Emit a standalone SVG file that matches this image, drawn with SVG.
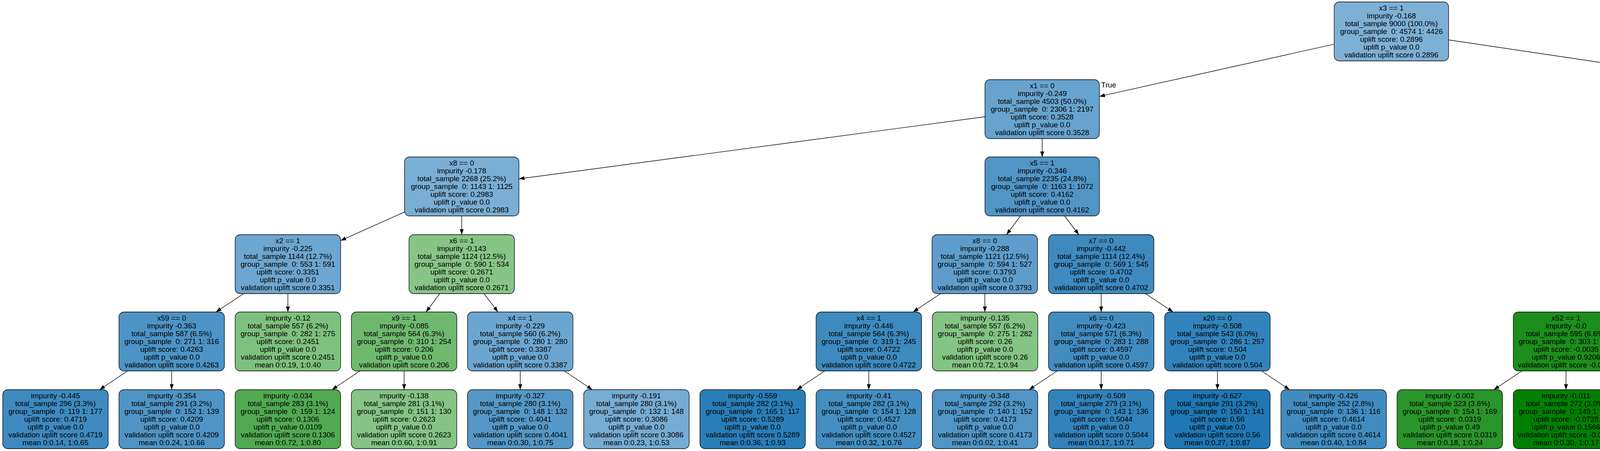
<svg xmlns="http://www.w3.org/2000/svg" width="7127" height="1155" viewBox="0 0 7127 1155">
<style>
text{font-family:"Liberation Sans",Arial,Helvetica,sans-serif;font-size:19px;fill:#000;text-anchor:middle}
text.lbl{text-anchor:start}
text.lbr{text-anchor:end}
rect.b{stroke:#000;stroke-width:1.3}
#edges path{fill:none;stroke:#000;stroke-width:1.4;marker-end:url(#ah)}
</style>
<defs>
<marker id="ah" markerUnits="userSpaceOnUse" markerWidth="14" markerHeight="10" viewBox="0 0 14 10" refX="14" refY="5" orient="auto"><path d="M0,0 L14,5 L0,10 z" fill="#000"/></marker>
</defs>
<rect x="0" y="0" width="7127" height="1155" fill="#fff"/>
<g id="edges">
<path d="M3415.5 113.1 L2814.5 246.9"/>
<path d="M3708.5 102.2 L4756.5 257.8"/>
<path d="M2521.5 299 L1328.5 458"/>
<path d="M2668 355 L2668 402"/>
<path d="M4903 355 L4903 402"/>
<path d="M5049.5 303.9 L5945.5 453.1"/>
<path d="M1035.5 543 L872 616.1"/>
<path d="M1182 553 L1182 601"/>
<path d="M2612.3 553 L2576.7 601"/>
<path d="M2725.3 553 L2761.7 601"/>
<path d="M4756.5 542.9 L4592 616.3"/>
<path d="M4959.9 553 L4996.1 601"/>
<path d="M6092 553 L6092 601"/>
<path d="M6238.5 526.6 L6551 631.3"/>
<path d="M623.6 752 L552.9 799"/>
<path d="M737 752 L737 799"/>
<path d="M1125.8 752 L1090.7 799"/>
<path d="M1239.1 752 L1274.7 799"/>
<path d="M2407.8 752 L2337.4 799"/>
<path d="M2521.3 752 L2521.3 799"/>
<path d="M2819 752 L2819 799"/>
<path d="M2932.5 752 L3003.1 799"/>
<path d="M4322 736.2 L4144 814.8"/>
<path d="M4457 752 L4457 799"/>
<path d="M5053 752 L5053 799"/>
<path d="M5188 736.8 L5361.3 814.2"/>
<path d="M6035 752 L5999.5 799"/>
<path d="M6148.4 752 L6183.6 799"/>
<path d="M6686 752 L6686 799"/>
<path d="M6799.5 752 L6870.1 799"/>
<path d="M326.6 950 L254.9 998"/>
<path d="M439.5 950 L439.5 998"/>
<path d="M921.6 950 L849.9 998"/>
<path d="M1034.5 950 L1034.5 998"/>
<path d="M1331.8 950 L1331.8 998"/>
<path d="M1444.7 950 L1516.4 998"/>
<path d="M2111.4 950 L2039.6 998"/>
<path d="M2224.2 950 L2224.2 998"/>
<path d="M2706.3 950 L2634.5 998"/>
<path d="M2819.1 950 L2819.1 998"/>
<path d="M3116.6 950 L3116.6 998"/>
<path d="M3229.4 950 L3301.3 998"/>
<path d="M3896.2 950 L3824.3 998"/>
<path d="M4009 950 L4009 998"/>
<path d="M4399.9 950 L4363.5 998"/>
<path d="M4512.7 950 L4548.2 998"/>
<path d="M4995.5 950 L4958.9 998"/>
<path d="M5108.3 950 L5143.5 998"/>
<path d="M5496.3 950 L5496.3 998"/>
<path d="M5609.1 950 L5680.9 998"/>
<path d="M6183.5 950 L6147.7 998"/>
<path d="M6296.4 950 L6332.3 998"/>
<path d="M6686.1 950 L6686.1 998"/>
<path d="M6799 950 L6870.7 998"/>
<text class="lbl" x="2819" y="224">True</text>
<text class="lbr" x="4754" y="235">False</text>
</g>

<g id="n0"><rect class="b" x="3415.5" y="5" width="293" height="151" rx="13" fill="#7DB0D6"/><text x="3562" y="27">x3 == 1<tspan x="3562" dy="20">impurity -0.168</tspan><tspan x="3562" dy="20">total_sample 9000 (100.0%)</tspan><tspan x="3562" dy="20">group_sample&#160; 0: 4574 1: 4426</tspan><tspan x="3562" dy="20">uplift score: 0.2896</tspan><tspan x="3562" dy="20">uplift p_value 0.0</tspan><tspan x="3562" dy="20">validation uplift score 0.2896</tspan></text></g>

<g id="n1"><rect class="b" x="2521.5" y="204" width="293" height="151" rx="13" fill="#67A3CE"/><text x="2668" y="226">x1 == 0<tspan x="2668" dy="20">impurity -0.249</tspan><tspan x="2668" dy="20">total_sample 4503 (50.0%)</tspan><tspan x="2668" dy="20">group_sample&#160; 0: 2306 1: 2197</tspan><tspan x="2668" dy="20">uplift score: 0.3528</tspan><tspan x="2668" dy="20">uplift p_value 0.0</tspan><tspan x="2668" dy="20">validation uplift score 0.3528</tspan></text></g>
<g id="n2"><rect class="b" x="4756.5" y="204" width="293" height="151" rx="13" fill="#77BD77"/><text x="4903" y="226">x4 == 0<tspan x="4903" dy="20">impurity -0.104</tspan><tspan x="4903" dy="20">total_sample 4497 (50.0%)</tspan><tspan x="4903" dy="20">group_sample&#160; 0: 2268 1: 2229</tspan><tspan x="4903" dy="20">uplift score: 0.2282</tspan><tspan x="4903" dy="20">uplift p_value 0.0</tspan><tspan x="4903" dy="20">validation uplift score 0.2282</tspan></text></g>

<g id="n3"><rect class="b" x="1035.5" y="402" width="293" height="151" rx="13" fill="#7AAED5"/><text x="1182" y="424">x8 == 0<tspan x="1182" dy="20">impurity -0.178</tspan><tspan x="1182" dy="20">total_sample 2268 (25.2%)</tspan><tspan x="1182" dy="20">group_sample&#160; 0: 1143 1: 1125</tspan><tspan x="1182" dy="20">uplift score: 0.2983</tspan><tspan x="1182" dy="20">uplift p_value 0.0</tspan><tspan x="1182" dy="20">validation uplift score 0.2983</tspan></text></g>
<g id="n4"><rect class="b" x="2521.5" y="402" width="293" height="151" rx="13" fill="#5195C6"/><text x="2668" y="424">x5 == 1<tspan x="2668" dy="20">impurity -0.346</tspan><tspan x="2668" dy="20">total_sample 2235 (24.8%)</tspan><tspan x="2668" dy="20">group_sample&#160; 0: 1163 1: 1072</tspan><tspan x="2668" dy="20">uplift score: 0.4162</tspan><tspan x="2668" dy="20">uplift p_value 0.0</tspan><tspan x="2668" dy="20">validation uplift score 0.4162</tspan></text></g>
<g id="n5"><rect class="b" x="4756.5" y="402" width="293" height="151" rx="13" fill="#54AB54"/><text x="4903" y="424">x1 == 0<tspan x="4903" dy="20">impurity -0.038</tspan><tspan x="4903" dy="20">total_sample 2250 (25.0%)</tspan><tspan x="4903" dy="20">group_sample&#160; 0: 1173 1: 1077</tspan><tspan x="4903" dy="20">uplift score: 0.1385</tspan><tspan x="4903" dy="20">uplift p_value 0.0</tspan><tspan x="4903" dy="20">validation uplift score 0.1385</tspan></text></g>
<g id="n6"><rect class="b" x="5945.5" y="402" width="293" height="151" rx="13" fill="#77ADD4"/><text x="6092" y="424">x6 == 1<tspan x="6092" dy="20">impurity -0.186</tspan><tspan x="6092" dy="20">total_sample 2247 (25.0%)</tspan><tspan x="6092" dy="20">group_sample&#160; 0: 1095 1: 1152</tspan><tspan x="6092" dy="20">uplift score: 0.305</tspan><tspan x="6092" dy="20">uplift p_value 0.0</tspan><tspan x="6092" dy="20">validation uplift score 0.305</tspan></text></g>

<g id="n7"><rect class="b" x="602" y="601" width="270" height="151" rx="13" fill="#6DA6D0"/><text x="737" y="623">x2 == 1<tspan x="737" dy="20">impurity -0.225</tspan><tspan x="737" dy="20">total_sample 1144 (12.7%)</tspan><tspan x="737" dy="20">group_sample&#160; 0: 553 1: 591</tspan><tspan x="737" dy="20">uplift score: 0.3351</tspan><tspan x="737" dy="20">uplift p_value 0.0</tspan><tspan x="737" dy="20">validation uplift score 0.3351</tspan></text></g>
<g id="n8"><rect class="b" x="1047" y="601" width="270" height="151" rx="13" fill="#87C587"/><text x="1182" y="623">x6 == 1<tspan x="1182" dy="20">impurity -0.143</tspan><tspan x="1182" dy="20">total_sample 1124 (12.5%)</tspan><tspan x="1182" dy="20">group_sample&#160; 0: 590 1: 534</tspan><tspan x="1182" dy="20">uplift score: 0.2671</tspan><tspan x="1182" dy="20">uplift p_value 0.0</tspan><tspan x="1182" dy="20">validation uplift score 0.2671</tspan></text></g>
<g id="n9"><rect class="b" x="2386" y="601" width="270" height="151" rx="13" fill="#5E9DCB"/><text x="2521" y="623">x8 == 0<tspan x="2521" dy="20">impurity -0.288</tspan><tspan x="2521" dy="20">total_sample 1121 (12.5%)</tspan><tspan x="2521" dy="20">group_sample&#160; 0: 594 1: 527</tspan><tspan x="2521" dy="20">uplift score: 0.3793</tspan><tspan x="2521" dy="20">uplift p_value 0.0</tspan><tspan x="2521" dy="20">validation uplift score 0.3793</tspan></text></g>
<g id="n10"><rect class="b" x="2684" y="601" width="270" height="151" rx="13" fill="#3E8ABF"/><text x="2819" y="623">x7 == 0<tspan x="2819" dy="20">impurity -0.442</tspan><tspan x="2819" dy="20">total_sample 1114 (12.4%)</tspan><tspan x="2819" dy="20">group_sample&#160; 0: 569 1: 545</tspan><tspan x="2819" dy="20">uplift score: 0.4702</tspan><tspan x="2819" dy="20">uplift p_value 0.0</tspan><tspan x="2819" dy="20">validation uplift score 0.4702</tspan></text></g>
<g id="n11"><rect class="b" x="4322" y="601" width="270" height="151" rx="13" fill="#399D39"/><text x="4457" y="623">x2 == 0<tspan x="4457" dy="20">impurity -0.01</tspan><tspan x="4457" dy="20">total_sample 1141 (12.7%)</tspan><tspan x="4457" dy="20">group_sample&#160; 0: 579 1: 562</tspan><tspan x="4457" dy="20">uplift score: 0.0697</tspan><tspan x="4457" dy="20">uplift p_value 0.0092</tspan><tspan x="4457" dy="20">validation uplift score 0.0697</tspan></text></g>
<g id="n12"><rect class="b" x="4918" y="601" width="270" height="151" rx="13" fill="#6CB86C"/><text x="5053" y="623">x6 == 0<tspan x="5053" dy="20">impurity -0.08</tspan><tspan x="5053" dy="20">total_sample 1109 (12.3%)</tspan><tspan x="5053" dy="20">group_sample&#160; 0: 594 1: 515</tspan><tspan x="5053" dy="20">uplift score: 0.1994</tspan><tspan x="5053" dy="20">uplift p_value 0.0</tspan><tspan x="5053" dy="20">validation uplift score 0.1994</tspan></text></g>
<g id="n13"><rect class="b" x="5957" y="601" width="270" height="151" rx="13" fill="#7AAFD5"/><text x="6092" y="623">x5 == 1<tspan x="6092" dy="20">impurity -0.175</tspan><tspan x="6092" dy="20">total_sample 1143 (12.7%)</tspan><tspan x="6092" dy="20">group_sample&#160; 0: 577 1: 566</tspan><tspan x="6092" dy="20">uplift score: 0.2962</tspan><tspan x="6092" dy="20">uplift p_value 0.0</tspan><tspan x="6092" dy="20">validation uplift score 0.2962</tspan></text></g>
<g id="n14"><rect class="b" x="6551" y="601" width="270" height="151" rx="13" fill="#6CA6D0"/><text x="6686" y="623">x5 == 1<tspan x="6686" dy="20">impurity -0.23</tspan><tspan x="6686" dy="20">total_sample 1104 (12.3%)</tspan><tspan x="6686" dy="20">group_sample&#160; 0: 518 1: 586</tspan><tspan x="6686" dy="20">uplift score: 0.3392</tspan><tspan x="6686" dy="20">uplift p_value 0.0</tspan><tspan x="6686" dy="20">validation uplift score 0.3392</tspan></text></g>

<g id="n15"><rect class="b" x="304.5" y="799" width="270" height="151" rx="13" fill="#4D93C5"/><text x="439.5" y="821">x59 == 0<tspan x="439.5" dy="20">impurity -0.363</tspan><tspan x="439.5" dy="20">total_sample 587 (6.5%)</tspan><tspan x="439.5" dy="20">group_sample&#160; 0: 271 1: 316</tspan><tspan x="439.5" dy="20">uplift score: 0.4263</tspan><tspan x="439.5" dy="20">uplift p_value 0.0</tspan><tspan x="439.5" dy="20">validation uplift score 0.4263</tspan></text></g>
<g id="n16"><rect class="b" x="602" y="799" width="270" height="151" rx="13" fill="#7EC17E"/><text x="737" y="821">impurity -0.12<tspan x="737" dy="20">total_sample 557 (6.2%)</tspan><tspan x="737" dy="20">group_sample&#160; 0: 282 1: 275</tspan><tspan x="737" dy="20">uplift score: 0.2451</tspan><tspan x="737" dy="20">uplift p_value 0.0</tspan><tspan x="737" dy="20">validation uplift score 0.2451</tspan><tspan x="737" dy="20">mean 0:0.19, 1:0.40</tspan></text></g>
<g id="n17"><rect class="b" x="899.5" y="799" width="270" height="151" rx="13" fill="#6FB96F"/><text x="1034.5" y="821">x9 == 1<tspan x="1034.5" dy="20">impurity -0.085</tspan><tspan x="1034.5" dy="20">total_sample 564 (6.3%)</tspan><tspan x="1034.5" dy="20">group_sample&#160; 0: 310 1: 254</tspan><tspan x="1034.5" dy="20">uplift score: 0.206</tspan><tspan x="1034.5" dy="20">uplift p_value 0.0</tspan><tspan x="1034.5" dy="20">validation uplift score 0.206</tspan></text></g>
<g id="n18"><rect class="b" x="1196.8" y="799" width="270" height="151" rx="13" fill="#6CA6D0"/><text x="1331.8" y="821">x4 == 1<tspan x="1331.8" dy="20">impurity -0.229</tspan><tspan x="1331.8" dy="20">total_sample 560 (6.2%)</tspan><tspan x="1331.8" dy="20">group_sample&#160; 0: 280 1: 280</tspan><tspan x="1331.8" dy="20">uplift score: 0.3387</tspan><tspan x="1331.8" dy="20">uplift p_value 0.0</tspan><tspan x="1331.8" dy="20">validation uplift score 0.3387</tspan></text></g>
<g id="n19"><rect class="b" x="2089.2" y="799" width="270" height="151" rx="13" fill="#3D8ABE"/><text x="2224.2" y="821">x4 == 1<tspan x="2224.2" dy="20">impurity -0.446</tspan><tspan x="2224.2" dy="20">total_sample 564 (6.3%)</tspan><tspan x="2224.2" dy="20">group_sample&#160; 0: 319 1: 245</tspan><tspan x="2224.2" dy="20">uplift score: 0.4722</tspan><tspan x="2224.2" dy="20">uplift p_value 0.0</tspan><tspan x="2224.2" dy="20">validation uplift score 0.4722</tspan></text></g>
<g id="n20"><rect class="b" x="2386.7" y="799" width="270" height="151" rx="13" fill="#84C484"/><text x="2521.7" y="821">impurity -0.135<tspan x="2521.7" dy="20">total_sample 557 (6.2%)</tspan><tspan x="2521.7" dy="20">group_sample&#160; 0: 275 1: 282</tspan><tspan x="2521.7" dy="20">uplift score: 0.26</tspan><tspan x="2521.7" dy="20">uplift p_value 0.0</tspan><tspan x="2521.7" dy="20">validation uplift score 0.26</tspan><tspan x="2521.7" dy="20">mean 0:0.72, 1:0.94</tspan></text></g>
<g id="n21"><rect class="b" x="2684.1" y="799" width="270" height="151" rx="13" fill="#428CC0"/><text x="2819.1" y="821">x6 == 0<tspan x="2819.1" dy="20">impurity -0.423</tspan><tspan x="2819.1" dy="20">total_sample 571 (6.3%)</tspan><tspan x="2819.1" dy="20">group_sample&#160; 0: 283 1: 288</tspan><tspan x="2819.1" dy="20">uplift score: 0.4597</tspan><tspan x="2819.1" dy="20">uplift p_value 0.0</tspan><tspan x="2819.1" dy="20">validation uplift score 0.4597</tspan></text></g>
<g id="n22"><rect class="b" x="2981.6" y="799" width="270" height="151" rx="13" fill="#3283BB"/><text x="3116.6" y="821">x20 == 0<tspan x="3116.6" dy="20">impurity -0.508</tspan><tspan x="3116.6" dy="20">total_sample 543 (6.0%)</tspan><tspan x="3116.6" dy="20">group_sample&#160; 0: 286 1: 257</tspan><tspan x="3116.6" dy="20">uplift score: 0.504</tspan><tspan x="3116.6" dy="20">uplift p_value 0.0</tspan><tspan x="3116.6" dy="20">validation uplift score 0.504</tspan></text></g>
<g id="n23"><rect class="b" x="3874" y="799" width="270" height="151" rx="13" fill="#1B8E1B"/><text x="4009" y="821">x52 == 1<tspan x="4009" dy="20">impurity -0.0</tspan><tspan x="4009" dy="20">total_sample 595 (6.6%)</tspan><tspan x="4009" dy="20">group_sample&#160; 0: 303 1: 292</tspan><tspan x="4009" dy="20">uplift score: -0.0035</tspan><tspan x="4009" dy="20">uplift p_value 0.9206</tspan><tspan x="4009" dy="20">validation uplift score -0.0035</tspan></text></g>
<g id="n24"><rect class="b" x="4322" y="799" width="270" height="151" rx="13" fill="#50A950"/><text x="4457" y="821">x44 == 1<tspan x="4457" dy="20">impurity -0.033</tspan><tspan x="4457" dy="20">total_sample 546 (6.1%)</tspan><tspan x="4457" dy="20">group_sample&#160; 0: 276 1: 270</tspan><tspan x="4457" dy="20">uplift score: 0.1285</tspan><tspan x="4457" dy="20">uplift p_value 0.0012</tspan><tspan x="4457" dy="20">validation uplift score 0.1285</tspan></text></g>
<g id="n25"><rect class="b" x="4918" y="799" width="270" height="151" rx="13" fill="#7FC17F"/><text x="5053" y="821">x2 == 0<tspan x="5053" dy="20">impurity -0.121</tspan><tspan x="5053" dy="20">total_sample 569 (6.3%)</tspan><tspan x="5053" dy="20">group_sample&#160; 0: 281 1: 288</tspan><tspan x="5053" dy="20">uplift score: 0.2463</tspan><tspan x="5053" dy="20">uplift p_value 0.0</tspan><tspan x="5053" dy="20">validation uplift score 0.2463</tspan></text></g>
<g id="n26"><rect class="b" x="5361.3" y="799" width="270" height="151" rx="13" fill="#67B567"/><text x="5496.3" y="821">x5 == 0<tspan x="5496.3" dy="20">impurity -0.07</tspan><tspan x="5496.3" dy="20">total_sample 540 (6.0%)</tspan><tspan x="5496.3" dy="20">group_sample&#160; 0: 313 1: 227</tspan><tspan x="5496.3" dy="20">uplift score: 0.1871</tspan><tspan x="5496.3" dy="20">uplift p_value 0.0</tspan><tspan x="5496.3" dy="20">validation uplift score 0.1871</tspan></text></g>
<g id="n27"><rect class="b" x="5807.5" y="799" width="270" height="151" rx="13" fill="#79BE79"/><text x="5942.5" y="821">impurity -0.108<tspan x="5942.5" dy="20">total_sample 575 (6.4%)</tspan><tspan x="5942.5" dy="20">group_sample&#160; 0: 287 1: 288</tspan><tspan x="5942.5" dy="20">uplift score: 0.232</tspan><tspan x="5942.5" dy="20">uplift p_value 0.0</tspan><tspan x="5942.5" dy="20">validation uplift score 0.232</tspan><tspan x="5942.5" dy="20">mean 0:0.64, 1:0.85</tspan></text></g>
<g id="n28"><rect class="b" x="6105" y="799" width="270" height="151" rx="13" fill="#66A2CE"/><text x="6240" y="821">x2 == 0<tspan x="6240" dy="20">impurity -0.252</tspan><tspan x="6240" dy="20">total_sample 568 (6.3%)</tspan><tspan x="6240" dy="20">group_sample&#160; 0: 290 1: 278</tspan><tspan x="6240" dy="20">uplift score: 0.3553</tspan><tspan x="6240" dy="20">uplift p_value 0.0</tspan><tspan x="6240" dy="20">validation uplift score 0.3553</tspan></text></g>
<g id="n29"><rect class="b" x="6551.1" y="799" width="270" height="151" rx="13" fill="#589AC9"/><text x="6686.1" y="821">x57 == 0<tspan x="6686.1" dy="20">impurity -0.311</tspan><tspan x="6686.1" dy="20">total_sample 556 (6.2%)</tspan><tspan x="6686.1" dy="20">group_sample&#160; 0: 267 1: 289</tspan><tspan x="6686.1" dy="20">uplift score: 0.3945</tspan><tspan x="6686.1" dy="20">uplift p_value 0.0</tspan><tspan x="6686.1" dy="20">validation uplift score 0.3945</tspan></text></g>
<g id="n30"><rect class="b" x="6848.6" y="799" width="270" height="151" rx="13" fill="#79ADD4"/><text x="6983.6" y="821">impurity -0.182<tspan x="6983.6" dy="20">total_sample 548 (6.1%)</tspan><tspan x="6983.6" dy="20">group_sample&#160; 0: 251 1: 297</tspan><tspan x="6983.6" dy="20">uplift score: 0.3016</tspan><tspan x="6983.6" dy="20">uplift p_value 0.0</tspan><tspan x="6983.6" dy="20">validation uplift score 0.3016</tspan><tspan x="6983.6" dy="20">mean 0:0.05, 1:0.35</tspan></text></g>

<g id="n31"><rect class="b" x="7" y="998" width="270" height="151" rx="13" fill="#3E8ABF"/><text x="142" y="1020">impurity -0.445<tspan x="142" dy="20">total_sample 296 (3.3%)</tspan><tspan x="142" dy="20">group_sample&#160; 0: 119 1: 177</tspan><tspan x="142" dy="20">uplift score: 0.4719</tspan><tspan x="142" dy="20">uplift p_value 0.0</tspan><tspan x="142" dy="20">validation uplift score 0.4719</tspan><tspan x="142" dy="20">mean 0:0.14, 1:0.65</tspan></text></g>
<g id="n32"><rect class="b" x="304.5" y="998" width="270" height="151" rx="13" fill="#4F94C5"/><text x="439.5" y="1020">impurity -0.354<tspan x="439.5" dy="20">total_sample 291 (3.2%)</tspan><tspan x="439.5" dy="20">group_sample&#160; 0: 152 1: 139</tspan><tspan x="439.5" dy="20">uplift score: 0.4209</tspan><tspan x="439.5" dy="20">uplift p_value 0.0</tspan><tspan x="439.5" dy="20">validation uplift score 0.4209</tspan><tspan x="439.5" dy="20">mean 0:0.24, 1:0.66</tspan></text></g>
<g id="n33"><rect class="b" x="602" y="998" width="270" height="151" rx="13" fill="#51A951"/><text x="737" y="1020">impurity -0.034<tspan x="737" dy="20">total_sample 283 (3.1%)</tspan><tspan x="737" dy="20">group_sample&#160; 0: 159 1: 124</tspan><tspan x="737" dy="20">uplift score: 0.1306</tspan><tspan x="737" dy="20">uplift p_value 0.0109</tspan><tspan x="737" dy="20">validation uplift score 0.1306</tspan><tspan x="737" dy="20">mean 0:0.72, 1:0.80</tspan></text></g>
<g id="n34"><rect class="b" x="899.4" y="998" width="270" height="151" rx="13" fill="#85C485"/><text x="1034.4" y="1020">impurity -0.138<tspan x="1034.4" dy="20">total_sample 281 (3.1%)</tspan><tspan x="1034.4" dy="20">group_sample&#160; 0: 151 1: 130</tspan><tspan x="1034.4" dy="20">uplift score: 0.2623</tspan><tspan x="1034.4" dy="20">uplift p_value 0.0</tspan><tspan x="1034.4" dy="20">validation uplift score 0.2623</tspan><tspan x="1034.4" dy="20">mean 0:0.60, 1:0.91</tspan></text></g>
<g id="n35"><rect class="b" x="1196.8" y="998" width="270" height="151" rx="13" fill="#5598C7"/><text x="1331.8" y="1020">impurity -0.327<tspan x="1331.8" dy="20">total_sample 280 (3.1%)</tspan><tspan x="1331.8" dy="20">group_sample&#160; 0: 148 1: 132</tspan><tspan x="1331.8" dy="20">uplift score: 0.4041</tspan><tspan x="1331.8" dy="20">uplift p_value 0.0</tspan><tspan x="1331.8" dy="20">validation uplift score 0.4041</tspan><tspan x="1331.8" dy="20">mean 0:0.30, 1:0.75</tspan></text></g>
<g id="n36"><rect class="b" x="1494.3" y="998" width="270" height="151" rx="13" fill="#76ACD3"/><text x="1629.3" y="1020">impurity -0.191<tspan x="1629.3" dy="20">total_sample 280 (3.1%)</tspan><tspan x="1629.3" dy="20">group_sample&#160; 0: 132 1: 148</tspan><tspan x="1629.3" dy="20">uplift score: 0.3086</tspan><tspan x="1629.3" dy="20">uplift p_value 0.0</tspan><tspan x="1629.3" dy="20">validation uplift score 0.3086</tspan><tspan x="1629.3" dy="20">mean 0:0.23, 1:0.53</tspan></text></g>
<g id="n37"><rect class="b" x="1791.8" y="998" width="270" height="151" rx="13" fill="#2A7EB8"/><text x="1926.8" y="1020">impurity -0.559<tspan x="1926.8" dy="20">total_sample 282 (3.1%)</tspan><tspan x="1926.8" dy="20">group_sample&#160; 0: 165 1: 117</tspan><tspan x="1926.8" dy="20">uplift score: 0.5289</tspan><tspan x="1926.8" dy="20">uplift p_value 0.0</tspan><tspan x="1926.8" dy="20">validation uplift score 0.5289</tspan><tspan x="1926.8" dy="20">mean 0:0.36, 1:0.93</tspan></text></g>
<g id="n38"><rect class="b" x="2089.2" y="998" width="270" height="151" rx="13" fill="#448EC1"/><text x="2224.2" y="1020">impurity -0.41<tspan x="2224.2" dy="20">total_sample 282 (3.1%)</tspan><tspan x="2224.2" dy="20">group_sample&#160; 0: 154 1: 128</tspan><tspan x="2224.2" dy="20">uplift score: 0.4527</tspan><tspan x="2224.2" dy="20">uplift p_value 0.0</tspan><tspan x="2224.2" dy="20">validation uplift score 0.4527</tspan><tspan x="2224.2" dy="20">mean 0:0.32, 1:0.76</tspan></text></g>
<g id="n39"><rect class="b" x="2386.7" y="998" width="270" height="151" rx="13" fill="#5095C6"/><text x="2521.7" y="1020">impurity -0.348<tspan x="2521.7" dy="20">total_sample 292 (3.2%)</tspan><tspan x="2521.7" dy="20">group_sample&#160; 0: 140 1: 152</tspan><tspan x="2521.7" dy="20">uplift score: 0.4173</tspan><tspan x="2521.7" dy="20">uplift p_value 0.0</tspan><tspan x="2521.7" dy="20">validation uplift score 0.4173</tspan><tspan x="2521.7" dy="20">mean 0:0.02, 1:0.41</tspan></text></g>
<g id="n40"><rect class="b" x="2684.1" y="998" width="270" height="151" rx="13" fill="#3283BB"/><text x="2819.1" y="1020">impurity -0.509<tspan x="2819.1" dy="20">total_sample 279 (3.1%)</tspan><tspan x="2819.1" dy="20">group_sample&#160; 0: 143 1: 136</tspan><tspan x="2819.1" dy="20">uplift score: 0.5044</tspan><tspan x="2819.1" dy="20">uplift p_value 0.0</tspan><tspan x="2819.1" dy="20">validation uplift score 0.5044</tspan><tspan x="2819.1" dy="20">mean 0:0.17, 1:0.71</tspan></text></g>
<g id="n41"><rect class="b" x="2981.6" y="998" width="270" height="151" rx="13" fill="#1F77B4"/><text x="3116.6" y="1020">impurity -0.627<tspan x="3116.6" dy="20">total_sample 291 (3.2%)</tspan><tspan x="3116.6" dy="20">group_sample&#160; 0: 150 1: 141</tspan><tspan x="3116.6" dy="20">uplift score: 0.56</tspan><tspan x="3116.6" dy="20">uplift p_value 0.0</tspan><tspan x="3116.6" dy="20">validation uplift score 0.56</tspan><tspan x="3116.6" dy="20">mean 0:0.27, 1:0.87</tspan></text></g>
<g id="n42"><rect class="b" x="3279.1" y="998" width="270" height="151" rx="13" fill="#418CC0"/><text x="3414.1" y="1020">impurity -0.426<tspan x="3414.1" dy="20">total_sample 252 (2.8%)</tspan><tspan x="3414.1" dy="20">group_sample&#160; 0: 136 1: 116</tspan><tspan x="3414.1" dy="20">uplift score: 0.4614</tspan><tspan x="3414.1" dy="20">uplift p_value 0.0</tspan><tspan x="3414.1" dy="20">validation uplift score 0.4614</tspan><tspan x="3414.1" dy="20">mean 0:0.40, 1:0.84</tspan></text></g>
<g id="n43"><rect class="b" x="3576.5" y="998" width="270" height="151" rx="13" fill="#2A952A"/><text x="3711.5" y="1020">impurity -0.002<tspan x="3711.5" dy="20">total_sample 323 (3.6%)</tspan><tspan x="3711.5" dy="20">group_sample&#160; 0: 154 1: 169</tspan><tspan x="3711.5" dy="20">uplift score: 0.0319</tspan><tspan x="3711.5" dy="20">uplift p_value 0.49</tspan><tspan x="3711.5" dy="20">validation uplift score 0.0319</tspan><tspan x="3711.5" dy="20">mean 0:0.18, 1:0.24</tspan></text></g>
<g id="n44"><rect class="b" x="3874" y="998" width="270" height="151" rx="13" fill="#008000"/><text x="4009" y="1020">impurity -0.011<tspan x="4009" dy="20">total_sample 272 (3.0%)</tspan><tspan x="4009" dy="20">group_sample&#160; 0: 149 1: 123</tspan><tspan x="4009" dy="20">uplift score: -0.0728</tspan><tspan x="4009" dy="20">uplift p_value 0.1566</tspan><tspan x="4009" dy="20">validation uplift score -0.0728</tspan><tspan x="4009" dy="20">mean 0:0.30, 1:0.17</tspan></text></g>
<g id="n45"><rect class="b" x="4171.4" y="998" width="270" height="151" rx="13" fill="#379C37"/><text x="4306.4" y="1020">impurity -0.008<tspan x="4306.4" dy="20">total_sample 286 (3.2%)</tspan><tspan x="4306.4" dy="20">group_sample&#160; 0: 146 1: 140</tspan><tspan x="4306.4" dy="20">uplift score: 0.0651</tspan><tspan x="4306.4" dy="20">uplift p_value 0.2406</tspan><tspan x="4306.4" dy="20">validation uplift score 0.0651</tspan><tspan x="4306.4" dy="20">mean 0:0.32, 1:0.34</tspan></text></g>
<g id="n46"><rect class="b" x="4468.9" y="998" width="270" height="151" rx="13" fill="#75BC75"/><text x="4603.9" y="1020">impurity -0.098<tspan x="4603.9" dy="20">total_sample 260 (2.9%)</tspan><tspan x="4603.9" dy="20">group_sample&#160; 0: 130 1: 130</tspan><tspan x="4603.9" dy="20">uplift score: 0.2211</tspan><tspan x="4603.9" dy="20">uplift p_value 0.0001</tspan><tspan x="4603.9" dy="20">validation uplift score 0.2211</tspan><tspan x="4603.9" dy="20">mean 0:0.20, 1:0.49</tspan></text></g>
<g id="n47"><rect class="b" x="4766.4" y="998" width="270" height="151" rx="13" fill="#62B362"/><text x="4901.4" y="1020">impurity -0.061<tspan x="4901.4" dy="20">total_sample 285 (3.2%)</tspan><tspan x="4901.4" dy="20">group_sample&#160; 0: 144 1: 141</tspan><tspan x="4901.4" dy="20">uplift score: 0.1752</tspan><tspan x="4901.4" dy="20">uplift p_value 0.0008</tspan><tspan x="4901.4" dy="20">validation uplift score 0.1752</tspan><tspan x="4901.4" dy="20">mean 0:0.19, 1:0.32</tspan></text></g>
<g id="n48"><rect class="b" x="5063.8" y="998" width="270" height="151" rx="13" fill="#6DA6D0"/><text x="5198.8" y="1020">impurity -0.226<tspan x="5198.8" dy="20">total_sample 284 (3.2%)</tspan><tspan x="5198.8" dy="20">group_sample&#160; 0: 137 1: 147</tspan><tspan x="5198.8" dy="20">uplift score: 0.336</tspan><tspan x="5198.8" dy="20">uplift p_value 0.0</tspan><tspan x="5198.8" dy="20">validation uplift score 0.336</tspan><tspan x="5198.8" dy="20">mean 0:0.14, 1:0.54</tspan></text></g>
<g id="n49"><rect class="b" x="5361.3" y="998" width="270" height="151" rx="13" fill="#7ABF7A"/><text x="5496.3" y="1020">impurity -0.11<tspan x="5496.3" dy="20">total_sample 271 (3.0%)</tspan><tspan x="5496.3" dy="20">group_sample&#160; 0: 147 1: 124</tspan><tspan x="5496.3" dy="20">uplift score: 0.235</tspan><tspan x="5496.3" dy="20">uplift p_value 0.0001</tspan><tspan x="5496.3" dy="20">validation uplift score 0.235</tspan><tspan x="5496.3" dy="20">mean 0:0.25, 1:0.52</tspan></text></g>
<g id="n50"><rect class="b" x="5658.7" y="998" width="270" height="151" rx="13" fill="#59AE59"/><text x="5793.7" y="1020">impurity -0.046<tspan x="5793.7" dy="20">total_sample 269 (3.0%)</tspan><tspan x="5793.7" dy="20">group_sample&#160; 0: 166 1: 103</tspan><tspan x="5793.7" dy="20">uplift score: 0.1511</tspan><tspan x="5793.7" dy="20">uplift p_value 0.0139</tspan><tspan x="5793.7" dy="20">validation uplift score 0.1511</tspan><tspan x="5793.7" dy="20">mean 0:0.54, 1:0.69</tspan></text></g>
<g id="n51"><rect class="b" x="5956.2" y="998" width="270" height="151" rx="13" fill="#6FA7D0"/><text x="6091.2" y="1020">impurity -0.219<tspan x="6091.2" dy="20">total_sample 286 (3.2%)</tspan><tspan x="6091.2" dy="20">group_sample&#160; 0: 138 1: 148</tspan><tspan x="6091.2" dy="20">uplift score: 0.3309</tspan><tspan x="6091.2" dy="20">uplift p_value 0.0</tspan><tspan x="6091.2" dy="20">validation uplift score 0.3309</tspan><tspan x="6091.2" dy="20">mean 0:0.20, 1:0.52</tspan></text></g>
<g id="n52"><rect class="b" x="6253.7" y="998" width="270" height="151" rx="13" fill="#5396C7"/><text x="6388.7" y="1020">impurity -0.337<tspan x="6388.7" dy="20">total_sample 282 (3.1%)</tspan><tspan x="6388.7" dy="20">group_sample&#160; 0: 152 1: 130</tspan><tspan x="6388.7" dy="20">uplift score: 0.4104</tspan><tspan x="6388.7" dy="20">uplift p_value 0.0</tspan><tspan x="6388.7" dy="20">validation uplift score 0.4104</tspan><tspan x="6388.7" dy="20">mean 0:0.32, 1:0.77</tspan></text></g>
<g id="n53"><rect class="b" x="6551.1" y="998" width="270" height="151" rx="13" fill="#71A8D1"/><text x="6686.1" y="1020">impurity -0.214<tspan x="6686.1" dy="20">total_sample 282 (3.1%)</tspan><tspan x="6686.1" dy="20">group_sample&#160; 0: 135 1: 147</tspan><tspan x="6686.1" dy="20">uplift score: 0.3273</tspan><tspan x="6686.1" dy="20">uplift p_value 0.0</tspan><tspan x="6686.1" dy="20">validation uplift score 0.3273</tspan><tspan x="6686.1" dy="20">mean 0:0.34, 1:0.62</tspan></text></g>
<g id="n54"><rect class="b" x="6848.6" y="998" width="270" height="151" rx="13" fill="#3685BC"/><text x="6983.6" y="1020">impurity -0.47<tspan x="6983.6" dy="20">total_sample 274 (3.0%)</tspan><tspan x="6983.6" dy="20">group_sample&#160; 0: 132 1: 142</tspan><tspan x="6983.6" dy="20">uplift score: 0.4946</tspan><tspan x="6983.6" dy="20">uplift p_value 0.0</tspan><tspan x="6983.6" dy="20">validation uplift score 0.4946</tspan><tspan x="6983.6" dy="20">mean 0:0.20, 1:0.75</tspan></text></g>
</svg>
